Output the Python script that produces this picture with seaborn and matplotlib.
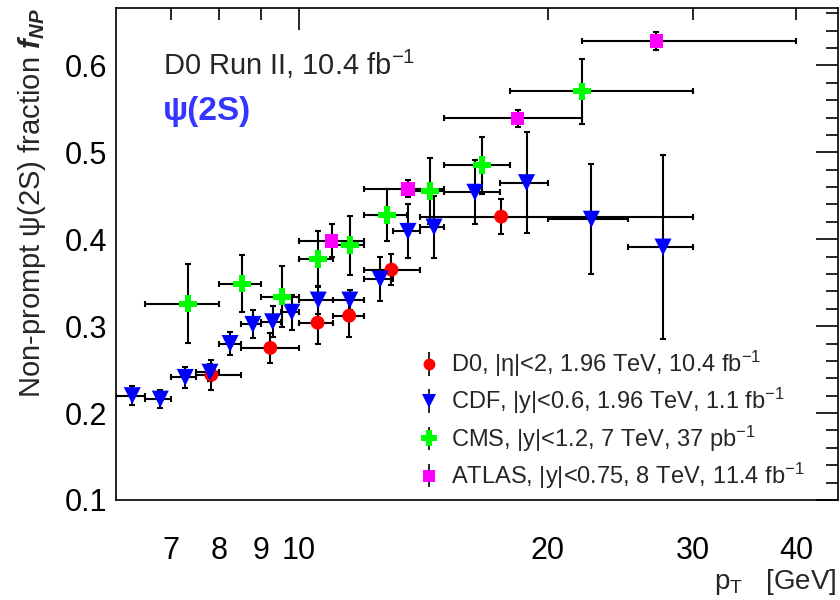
import numpy as np
import pandas as pd
import matplotlib
matplotlib.use("Agg")
import matplotlib.pyplot as plt
import seaborn as sns
from matplotlib.ticker import FixedLocator, FuncFormatter, MultipleLocator

# ---------------- data ----------------
d0_pt = [7.83, 9.23, 10.53, 11.50, 12.94, 17.57]
d0_lo = [7.5, 8.5, 10.0, 11.0, 12.0, 14.0]
d0_hi = [8.5, 10.0, 11.0, 12.0, 14.0, 30.0]
d0_f = [0.244, 0.275, 0.304, 0.312, 0.365, 0.426]
d0_err = [0.017, 0.017, 0.024, 0.024, 0.018, 0.020]

cdf_pt = [6.28, 6.79, 7.28, 7.80, 8.25, 8.79, 9.29, 9.80, 10.55, 11.52, 12.54, 13.55, 14.57, 16.33, 18.86, 22.6, 27.6]
cdf_lo = [6.0, 6.5, 7.0, 7.5, 8.0, 8.5, 9.0, 9.5, 10.0, 11.0, 12.0, 13.0, 14.0, 15.0, 17.5, 20.0, 25.0]
cdf_hi = [6.5, 7.0, 7.5, 8.0, 8.5, 9.0, 9.5, 10.0, 11.0, 12.0, 13.0, 14.0, 15.0, 17.5, 20.0, 25.0, 30.0]
cdf_f = [0.220, 0.216, 0.241, 0.247, 0.280, 0.302, 0.305, 0.316, 0.330, 0.330, 0.354, 0.409, 0.414, 0.454, 0.465, 0.423, 0.391]
cdf_err = [0.011, 0.010, 0.012, 0.010, 0.013, 0.016, 0.018, 0.020, 0.016, 0.012, 0.025, 0.031, 0.036, 0.037, 0.058, 0.063, 0.106]

cms_pt = [7.34, 8.53, 9.54, 10.55, 11.53, 12.77, 14.41, 16.67, 22.0]
cms_lo = [6.5, 8.0, 9.0, 10.0, 11.0, 12.0, 13.5, 15.0, 18.0]
cms_hi = [8.0, 9.0, 10.0, 11.0, 12.0, 13.5, 15.0, 18.0, 30.0]
cms_f = [0.326, 0.349, 0.334, 0.377, 0.393, 0.428, 0.455, 0.485, 0.570]
cms_err = [0.045, 0.033, 0.035, 0.032, 0.034, 0.030, 0.038, 0.033, 0.037]

atlas_pt = [10.95, 13.55, 18.4, 27.1]
atlas_lo = [10.0, 12.0, 15.0, 22.0]
atlas_hi = [12.0, 15.0, 22.0, 40.0]
atlas_f = [0.398, 0.458, 0.539, 0.628]
atlas_err = [0.019, 0.010, 0.010, 0.010]

labels = [r"D0, |η|<2, 1.96 TeV, 10.4 fb$^{-1}$",
          r"CDF, |y|<0.6, 1.96 TeV, 1.1 fb$^{-1}$",
          r"CMS, |y|<1.2, 7 TeV, 37 pb$^{-1}$",
          r"ATLAS, |y|<0.75, 8 TeV, 11.4 fb$^{-1}$"]
x_major_ticks = [10]
x_minor_ticks = [7, 8, 9, 20, 30, 40]

# ---------------- style ----------------
sns.set_theme(style="white")
plt.rcParams["font.family"] = ["Liberation Sans", "DejaVu Sans"]
plt.rcParams["mathtext.fontset"] = "custom"
plt.rcParams["mathtext.rm"] = "Liberation Sans"
plt.rcParams["mathtext.it"] = "Liberation Sans:italic"
plt.rcParams["mathtext.bf"] = "Liberation Sans:bold:italic"

colors = ["#ff0000", "#0000ff", "#00ff00", "#ff00ff"]
markers = ["o", "v", "P", "s"]
msizes = [100, 150, 165, 95]

series = [
    (d0_pt, d0_lo, d0_hi, d0_f, d0_err),
    (cdf_pt, cdf_lo, cdf_hi, cdf_f, cdf_err),
    (cms_pt, cms_lo, cms_hi, cms_f, cms_err),
    (atlas_pt, atlas_lo, atlas_hi, atlas_f, atlas_err),
]
names = ["D0", "CDF", "CMS", "ATLAS"]

frames = []
for name, (pt, lo, hi, f, e) in zip(names, series):
    frames.append(pd.DataFrame({"pt": pt, "f": f, "exp": name}))
df = pd.concat(frames, ignore_index=True)

fig = plt.figure(figsize=(8.4, 6), dpi=100)
ax = fig.add_axes([0.138, 0.1667, 0.860, 0.820])

for (pt, lo, hi, f, e) in series:
    pt = np.array(pt); lo = np.array(lo); hi = np.array(hi)
    ax.errorbar(pt, f, xerr=[pt - lo, hi - pt], yerr=e, fmt="none",
                ecolor="black", elinewidth=1.5, capsize=2.5, capthick=1.5, zorder=2)

sns.scatterplot(data=df, x="pt", y="f", hue="exp", style="exp", size="exp",
                palette=dict(zip(names, colors)),
                markers=dict(zip(names, markers)),
                sizes=dict(zip(names, msizes)),
                linewidth=0, legend=False, ax=ax, zorder=3)

ax.set_xscale("log")
ax.set_xlim(6.0, 45.0)
ax.set_ylim(0.1, 0.666)

ax.xaxis.set_major_locator(FixedLocator(x_major_ticks))
ax.xaxis.set_minor_locator(FixedLocator(x_minor_ticks))
fmt = FuncFormatter(lambda v, p: "%d" % round(v))
ax.xaxis.set_major_formatter(fmt)
ax.xaxis.set_minor_formatter(fmt)
ax.yaxis.set_major_locator(MultipleLocator(0.1))
ax.yaxis.set_minor_locator(MultipleLocator(0.02))
ax.yaxis.set_major_formatter(FuncFormatter(lambda v, p: "%.1f" % v))

ax.tick_params(which="both", direction="in", top=True, right=True, width=1.2,
               colors="black", labelsize=22)
ax.tick_params(which="major", length=16)
ax.tick_params(which="minor", length=8.5)
ax.tick_params(axis="x", which="both", pad=26)
ax.tick_params(axis="y", which="both", pad=6)
for s in ax.spines.values():
    s.set_color("black")
    s.set_linewidth(1.2)

ax.set_xlabel("")
fig.text(0.996, 1 - 582 / 600, r"p$_{\mathrm{T}}$   [GeV]", fontsize=20,
         ha="right", va="center")
ax.set_ylabel(r"Non-prompt ψ(2S) fraction $\mathbf{f_{NP}}$", fontsize=21,
              loc="top", labelpad=12)

ax.text(0.065, 0.885, r"D0 Run II, 10.4 fb$^{-1}$", transform=ax.transAxes,
        fontsize=21, va="center", ha="left")
ax.text(0.065, 0.789, "ψ(2S)", transform=ax.transAxes, fontsize=24,
        fontweight="bold", color="#3535ff", va="center", ha="left")

# legend handles
handles = []
for c, m, ms, lab in zip(colors, markers, msizes, labels):
    h = ax.errorbar([np.nan], [np.nan], yerr=[0.01], fmt=m, color=c,
                    markersize=np.sqrt(ms) * 0.85, markeredgewidth=0, ecolor="black",
                    elinewidth=1.2, capsize=0, label=lab)
    handles.append(h)
leg = ax.legend(handles=handles, loc="upper left",
                bbox_to_anchor=(417 / 840, 1 - 349 / 600), bbox_transform=fig.transFigure,
                frameon=False, fontsize=17, handlelength=1.0, handletextpad=0.45,
                labelspacing=0.3, borderpad=0, borderaxespad=0)

fig.savefig("out.png", dpi=100, facecolor="white")
